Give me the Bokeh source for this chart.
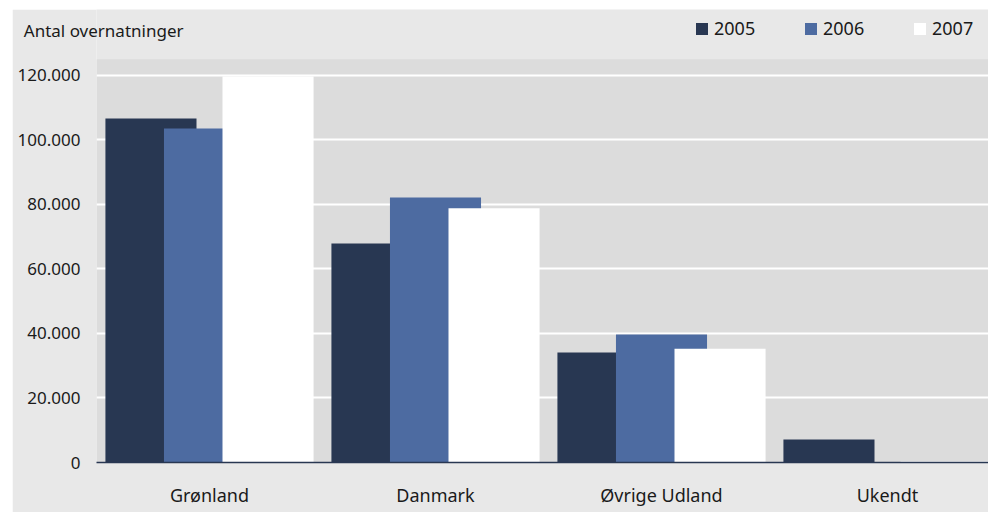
from bokeh.plotting import figure
from bokeh.models import (ColumnDataSource, Legend, LegendItem, FixedTicker, Range1d,
                          LinearAxis, BoxAnnotation)
from bokeh.embed import file_html
from bokeh.resources import INLINE

categories = ["Grønland", "Danmark", "Øvrige Udland", "Ukendt"]
years = ["2005", "2006", "2007"]
v2005 = [106700, 67900, 34100, 7100]
v2006 = [103600, 82200, 39700, 0]
v2007 = [119700, 78800, 35300, 400]
colors = ["#283752", "#4d6ba1", "#ffffff"]
y_ticks = [0, 20000, 40000, 60000, 80000, 100000, 120000]
y_tick_labels = ["0", "20.000", "40.000", "60.000", "80.000", "100.000", "120.000"]
title_text = "Antal overnatninger"
plot_area_max = 125000      # top of the darker plot area
y_view_max = 140465         # frame extends over the header band
title_y = 133800            # vertical position of the header row

FONT = "Noto Sans"
TXT = "#1a1a1a"
BG = "#e8e8e8"

p = figure(width=976, height=503, output_backend="svg", toolbar_location=None,
           x_range=Range1d(0, 892 / 226), y_range=Range1d(0, y_view_max),
           min_border_left=84, min_border_right=0, min_border_top=0, min_border_bottom=50)
p.margin = (9, 0, 0, 12)
p.background_fill_color = BG
p.border_fill_color = BG
p.outline_line_color = None

# darker plot area (below grid lines)
p.add_layout(BoxAnnotation(bottom=0, top=plot_area_max, fill_color="#dcdcdc", fill_alpha=1,
                           line_color=None, level="image"))

centers = [i + 0.5 for i in range(len(categories))]
offsets = [-0.259, 0.0, 0.259]
series = [v2005, v2006, v2007]
items = []
for yr, vals, off, col in zip(years, series, offsets, colors):
    src = ColumnDataSource(dict(x=[c + off for c in centers], top=vals))
    r = p.vbar(x="x", top="top", width=0.403, source=src, fill_color=col, line_color=None)
    items.append(LegendItem(label=yr, renderers=[r]))

p.xaxis.ticker = FixedTicker(ticks=centers)
p.xaxis.major_label_overrides = {c: lab for c, lab in zip(centers, categories)}
p.xaxis.major_tick_line_color = None
p.xaxis.major_tick_out = 0
p.xaxis.major_tick_in = 0
p.xaxis.minor_tick_line_color = None
p.xaxis.axis_line_color = "#283752"
p.xaxis.axis_line_width = 1.5
p.xaxis.major_label_standoff = 20
p.xaxis.major_label_text_font = FONT
p.xaxis.major_label_text_font_size = "18px"
p.xaxis.major_label_text_color = TXT

p.yaxis.ticker = FixedTicker(ticks=y_ticks)
p.yaxis.major_label_overrides = {t: lab for t, lab in zip(y_ticks, y_tick_labels)}
p.yaxis.major_tick_line_color = None
p.yaxis.major_tick_out = 0
p.yaxis.major_tick_in = 0
p.yaxis.minor_tick_line_color = None
p.yaxis.axis_line_color = None
p.yaxis.major_label_standoff = 16
p.yaxis.major_label_text_font = FONT
p.yaxis.major_label_text_font_size = "17px"
p.yaxis.major_label_text_color = TXT

# header title as a label of an outer left axis, pulled back to the right
title_axis = LinearAxis(ticker=FixedTicker(ticks=[title_y]),
                        major_label_overrides={title_y: title_text},
                        major_label_standoff=-169, major_tick_out=0, major_tick_in=0,
                        axis_line_color=None, major_tick_line_color=None,
                        minor_tick_line_color=None,
                        major_label_text_font=FONT, major_label_text_font_size="17px",
                        major_label_text_color=TXT)
p.add_layout(title_axis, "left")

p.xgrid.grid_line_color = None
p.ygrid.ticker = FixedTicker(ticks=y_ticks)
p.ygrid.grid_line_color = "white"
p.ygrid.grid_line_width = 2

legend = Legend(items=items, location=(598, 422), orientation="horizontal",
                glyph_width=15, glyph_height=15, label_standoff=5, spacing=45,
                label_width=44, padding=0, margin=0,
                border_line_color=None, background_fill_alpha=0,
                label_text_font=FONT, label_text_font_size="18px", label_text_color=TXT)
p.add_layout(legend, "center")

open("out.html", "w").write(file_html(p, INLINE))
